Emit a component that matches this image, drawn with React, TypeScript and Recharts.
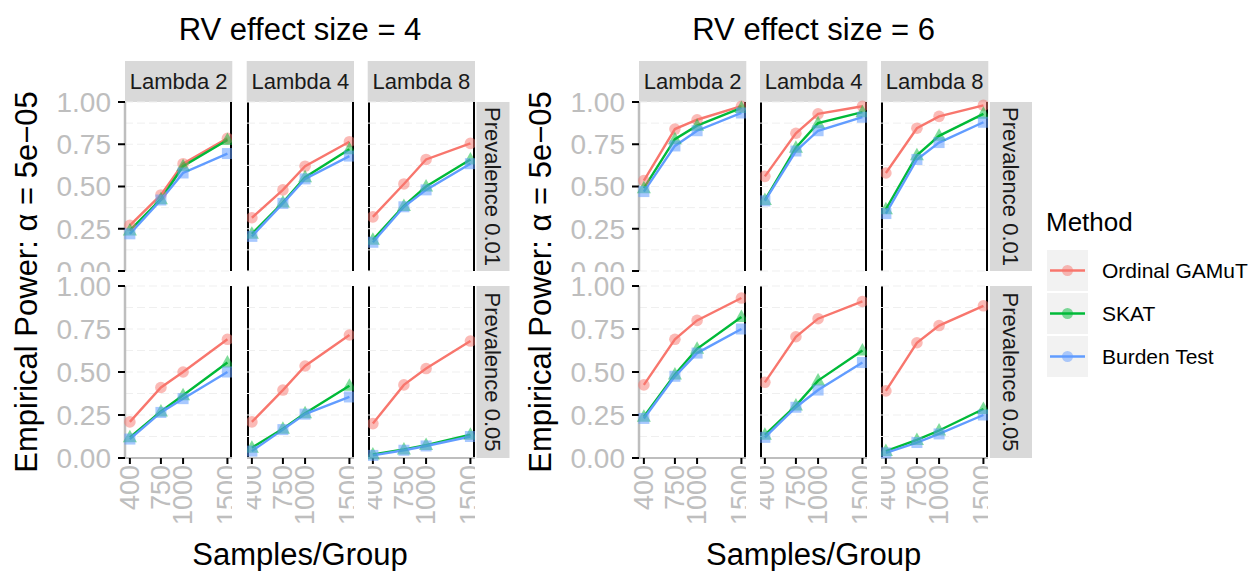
import React from "react";
import { LineChart, Line, XAxis, YAxis, CartesianGrid } from "recharts";

const sampleSizes = [400, 750, 1000, 1500];
const lambdaLabels = ["Lambda 2", "Lambda 4", "Lambda 8"];
const prevalenceLabels = ["Prevalence 0.01", "Prevalence 0.05"];
const effectLabels = ["RV effect size = 4", "RV effect size = 6"];
const methodLabels = ["Ordinal GAMuT", "SKAT", "Burden Test"];
const methodColors = ["#F8766D", "#00BA38", "#619CFF"];
const yTicks = [0, 0.25, 0.5, 0.75, 1];
const gridValues = [0, 0.125, 0.25, 0.375, 0.5, 0.625, 0.75, 0.875, 1];

// each array: one row per lambda (2, 4, 8), one value per sample size
const gamutEs4Prev01 = [
  [0.27, 0.45, 0.635, 0.785],
  [0.315, 0.48, 0.62, 0.765],
  [0.32, 0.515, 0.66, 0.755],
];
const skatEs4Prev01 = [
  [0.24, 0.425, 0.62, 0.775],
  [0.22, 0.405, 0.555, 0.72],
  [0.185, 0.385, 0.5, 0.66],
];
const burdenEs4Prev01 = [
  [0.22, 0.42, 0.58, 0.695],
  [0.205, 0.4, 0.545, 0.68],
  [0.17, 0.38, 0.48, 0.635],
];
const gamutEs4Prev05 = [
  [0.21, 0.41, 0.5, 0.69],
  [0.21, 0.395, 0.535, 0.715],
  [0.2, 0.425, 0.52, 0.68],
];
const skatEs4Prev05 = [
  [0.12, 0.27, 0.365, 0.555],
  [0.06, 0.17, 0.26, 0.42],
  [0.02, 0.05, 0.075, 0.135],
];
const burdenEs4Prev05 = [
  [0.11, 0.265, 0.345, 0.5],
  [0.04, 0.165, 0.255, 0.355],
  [0.015, 0.045, 0.07, 0.125],
];
const gamutEs6Prev01 = [
  [0.535, 0.84, 0.895, 0.975],
  [0.56, 0.815, 0.93, 0.975],
  [0.58, 0.845, 0.915, 0.98],
];
const skatEs6Prev01 = [
  [0.49, 0.78, 0.86, 0.965],
  [0.42, 0.73, 0.875, 0.94],
  [0.365, 0.685, 0.8, 0.93],
];
const burdenEs6Prev01 = [
  [0.47, 0.74, 0.83, 0.935],
  [0.415, 0.71, 0.83, 0.91],
  [0.34, 0.66, 0.76, 0.88],
];
const gamutEs6Prev05 = [
  [0.425, 0.69, 0.8, 0.93],
  [0.44, 0.705, 0.81, 0.91],
  [0.39, 0.67, 0.77, 0.885],
];
const skatEs6Prev05 = [
  [0.24, 0.485, 0.635, 0.82],
  [0.135, 0.305, 0.45, 0.625],
  [0.04, 0.105, 0.16, 0.285],
];
const burdenEs6Prev05 = [
  [0.23, 0.475, 0.61, 0.75],
  [0.12, 0.295, 0.395, 0.555],
  [0.03, 0.09, 0.14, 0.25],
];

// [effect][prevalence] -> [gamut, skat, burden]
const powerTable = [
  [
    [gamutEs4Prev01, skatEs4Prev01, burdenEs4Prev01],
    [gamutEs4Prev05, skatEs4Prev05, burdenEs4Prev05],
  ],
  [
    [gamutEs6Prev01, skatEs6Prev01, burdenEs6Prev01],
    [gamutEs6Prev05, skatEs6Prev05, burdenEs6Prev05],
  ],
];

const FONT = "'Liberation Sans', Arial, Helvetica, sans-serif";
const GREY_TEXT = "#BEBEBE";
const STRIP = "#D9D9D9";

const PW = 107.3;
const COL_X = [
  [125, 246.7, 367.7],
  [639, 760, 881],
];
const ROW_Y = [102, 286];
const ROW_H = [169, 172];
const PAD = 18;
const YAXIS_W = 70;
const XAXIS_H = 72;
const PREV_STRIP = [
  { x: 476.5, w: 33 },
  { x: 990, w: 42 },
];

const circleDot = (color: string) => (p: any) => (
  <circle key={`c-${p.index}`} cx={p.cx} cy={p.cy} r={5.8} fill={color} fillOpacity={0.5} />
);
const triangleDot = (color: string) => (p: any) => (
  <path
    key={`t-${p.index}`}
    d={`M${p.cx},${p.cy - 7.5} L${p.cx + 7},${p.cy + 5} L${p.cx - 7},${p.cy + 5} Z`}
    fill={color}
    fillOpacity={0.5}
  />
);
const squareDot = (color: string) => (p: any) => (
  <rect key={`s-${p.index}`} x={p.cx - 5.5} y={p.cy - 5.5} width={11} height={11} fill={color} fillOpacity={0.55} />
);
const dotMakers = [circleDot, triangleDot, squareDot];
const seriesKeys = ["gamut", "skat", "burden"];

const XTick = (props: any) => {
  const { x, y, payload } = props;
  return (
    <text
      x={x}
      y={y}
      transform={`rotate(-90, ${x}, ${y})`}
      textAnchor="end"
      dominantBaseline="central"
      fill={GREY_TEXT}
      fontSize={27}
      fontFamily={FONT}
    >
      {payload.value}
    </text>
  );
};

function Panel({ effect, row, col }: { effect: number; row: number; col: number }) {
  const showY = col === 0;
  const showX = row === 1;
  const series = powerTable[effect][row];
  const data = sampleSizes.map((n, i) => ({
    n,
    gamut: series[0][col][i],
    skat: series[1][col][i],
    burden: series[2][col][i],
  }));
  const w = PW + (showY ? YAXIS_W : 0);
  const h = PAD + ROW_H[row] + (showX ? XAXIS_H : 1);
  const left = COL_X[effect][col] - (showY ? YAXIS_W : 0);
  return (
    <div style={{ position: "absolute", left, top: ROW_Y[row] - PAD, width: w, height: h, overflow: "hidden" }}>
      <div
        style={{
          position: "absolute",
          left: showY ? YAXIS_W : 0,
          top: PAD,
          width: PW,
          height: ROW_H[row],
          boxSizing: "border-box",
          borderRight: "2px solid #000",
          borderLeft: showY ? "none" : "2px solid #000",
        }}
      />
      <LineChart
        width={w}
        height={showX ? h : h + 40}
        data={data}
        margin={{ top: PAD, right: 0, bottom: showX ? 0 : 41, left: 0 }}
      >
        <CartesianGrid vertical={false} stroke="#EFEFEF" strokeDasharray="8 4" horizontalValues={gridValues} />
        <XAxis
          dataKey="n"
          type="number"
          domain={[345, 1555]}
          ticks={sampleSizes}
          interval={0}
          hide={!showX}
          height={XAXIS_H}
          axisLine={{ stroke: GREY_TEXT, strokeWidth: 2 }}
          tickLine={{ stroke: "#000", strokeWidth: 2 }}
          tickSize={6}
          tickMargin={1}
          tick={<XTick />}
        />
        <YAxis
          type="number"
          domain={[0, 1]}
          ticks={yTicks}
          interval={0}
          hide={!showY}
          width={YAXIS_W}
          axisLine={{ stroke: GREY_TEXT, strokeWidth: 2.5 }}
          tickLine={{ stroke: "#000", strokeWidth: 2 }}
          tickSize={7}
          tickMargin={7}
          tick={{ fill: GREY_TEXT, fontSize: 28, fontFamily: FONT }}
          tickFormatter={(v: number) => v.toFixed(2)}
        />
        {seriesKeys.map((k, m) => (
          <Line
            key={k}
            dataKey={k}
            type="linear"
            stroke={methodColors[m]}
            strokeWidth={2.4}
            dot={dotMakers[m](methodColors[m])}
            activeDot={false}
            isAnimationActive={false}
          />
        ))}
      </LineChart>
    </div>
  );
}

export default function App() {
  const panels = [];
  for (let e = 0; e < 2; e++)
    for (let r = 0; r < 2; r++)
      for (let c = 0; c < 3; c++) panels.push(<Panel key={`${e}-${r}-${c}`} effect={e} row={r} col={c} />);

  return (
    <div
      style={{
        position: "absolute",
        left: 0,
        top: 0,
        width: 1260,
        height: 571,
        background: "#fff",
        fontFamily: FONT,
        overflow: "hidden",
      }}
    >
      <svg width={1260} height={571} style={{ position: "absolute", left: 0, top: 0 }}>
        {effectLabels.map((label, e) => {
          const x0 = COL_X[e][0];
          const x1 = COL_X[e][2] + PW;
          const cx = (x0 + x1) / 2;
          const ytx = e === 0 ? 37 : 551;
          return (
            <g key={label}>
              <text x={cx} y={40} textAnchor="middle" fontSize={31} fill="#000" fontFamily={FONT}>
                {label}
              </text>
              <text x={cx} y={565} textAnchor="middle" fontSize={31} fill="#000" fontFamily={FONT}>
                Samples/Group
              </text>
              <text
                x={ytx}
                y={282}
                transform={`rotate(-90, ${ytx}, 282)`}
                textAnchor="middle"
                fontSize={31}
                fill="#000"
                fontFamily={FONT}
              >
                Empirical Power: α = 5e−05
              </text>
              {lambdaLabels.map((lab, c) => (
                <g key={lab}>
                  <rect x={COL_X[e][c]} y={61} width={PW} height={41} fill={STRIP} />
                  <text
                    x={COL_X[e][c] + PW / 2}
                    y={89}
                    textAnchor="middle"
                    fontSize={22}
                    fill="#1A1A1A"
                    fontFamily={FONT}
                  >
                    {lab}
                  </text>
                </g>
              ))}
              {prevalenceLabels.map((lab, r) => {
                const sx = PREV_STRIP[e].x;
                const sw = PREV_STRIP[e].w;
                const cy = ROW_Y[r] + ROW_H[r] / 2;
                const tx = sx + sw / 2 - 8;
                return (
                  <g key={lab}>
                    <rect x={sx} y={ROW_Y[r]} width={sw} height={ROW_H[r]} fill={STRIP} />
                    <text
                      x={tx}
                      y={cy}
                      transform={`rotate(90, ${tx}, ${cy})`}
                      textAnchor="middle"
                      fontSize={22}
                      fill="#1A1A1A"
                      fontFamily={FONT}
                    >
                      {lab}
                    </text>
                  </g>
                );
              })}
            </g>
          );
        })}
        <text x={1046} y={231} fontSize={26} fill="#000" fontFamily={FONT}>
          Method
        </text>
        {methodLabels.map((lab, m) => {
          const ky = 250 + m * 43;
          return (
            <g key={lab}>
              <rect x={1047} y={ky} width={41} height={41} fill="#F2F2F2" />
              <line x1={1050} x2={1085} y1={ky + 20.5} y2={ky + 20.5} stroke={methodColors[m]} strokeWidth={2.5} />
              <circle cx={1067.5} cy={ky + 20.5} r={5.5} fill={methodColors[m]} fillOpacity={0.5} />
              <text x={1102} y={ky + 28} fontSize={21} fill="#000" fontFamily={FONT}>
                {lab}
              </text>
            </g>
          );
        })}
      </svg>
      {panels}
    </div>
  );
}
